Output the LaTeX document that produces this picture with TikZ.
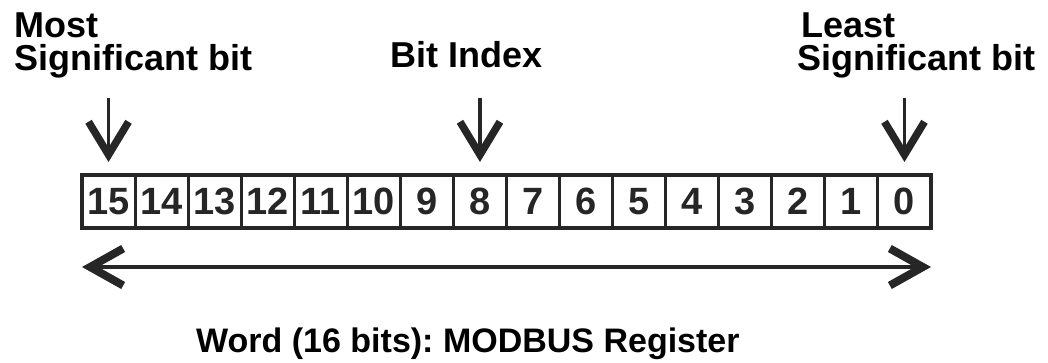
\documentclass[tikz,border=0pt]{standalone}
\usepackage{fontspec}
\setmainfont{Liberation Sans}
\usetikzlibrary{arrows.meta}
\definecolor{ink}{HTML}{262626}
\frenchspacing
\begin{document}
\begin{tikzpicture}[x=1pt,y=-1pt,
  cell/.style={draw=ink, line width=3pt, minimum width=53.06pt, minimum height=53pt,
    inner sep=0pt, outer sep=0pt, text=ink, font=\fontsize{38}{38}\selectfont\bfseries},
  caption/.style={font=\fontsize{36}{36}\selectfont\bfseries, text=black, inner sep=0pt, anchor=base west},
  pointer/.style={draw=ink, line width=3.2pt, -{Straight Barb[length=33pt,width=40pt,line width=7.5pt]}},
  span/.style={draw=ink, line width=4pt, {Straight Barb[length=33pt,width=37pt,line width=8pt]}-{Straight Barb[length=33pt,width=37pt,line width=8pt]}}
]
\useasboundingbox (0,0) rectangle (1048,362);

% the sixteen bit cells, bit 15 on the left
\foreach \i in {0,...,15}
  \node[cell] (c\i) at ({82+53.0625*(15.5-\i)}, 201.5) {\i};
\draw[ink, line width=4pt] (c15.north west) rectangle (c0.south east);

% captions above the register
\node[caption] (msb1) at (14,37) {Most};
\node[caption] (msb2) at (14,70) {Significant bit};
\node[caption] (idx)  at (390,67) {Bit Index};
\node[caption] (lsb1) at (801,37) {Least};
\node[caption] (lsb2) at (797,70) {Significant bit};

% pointers down onto bits 15, 8 and 0
\coordinate (ptop) at (0,98);
\coordinate (ptip) at (0,162);
\draw[pointer] (c15.north |- ptop) -- (c15.north |- ptip);
\draw[pointer] (c8.north |- ptop) -- (c8.north |- ptip);
\draw[pointer] (c0.north |- ptop) -- (c0.north |- ptip);

% word span arrow
\coordinate (spany) at (0,267);
\draw[span] (c15.west |- spany) -- (c0.east |- spany);

\node[caption, font=\fontsize{34}{34}\selectfont\bfseries] (word) at (196,352) {Word (16 bits): MODBUS Register};
\end{tikzpicture}
\end{document}
